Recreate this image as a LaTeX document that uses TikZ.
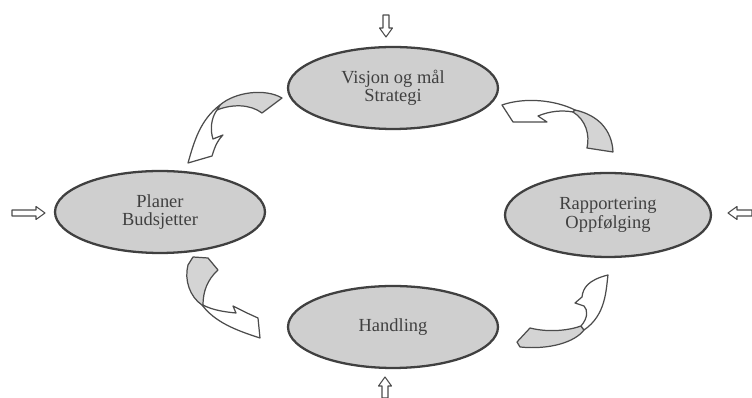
\documentclass[tikz,border=0pt]{standalone}
\usepackage{fontspec}
\setmainfont{Liberation Serif}
\usetikzlibrary{shapes.geometric}
\tikzset{
  stage/.style={ellipse, draw=black!75, line width=1.3pt, fill=black!19,
    minimum width=4.2cm, minimum height=1.64cm, inner sep=0pt, align=center,
    text=black!75, font=\fontsize{10.5}{10.5}\selectfont},
  tailpart/.style={draw=black!70, line width=0.7pt, fill=black!17, line join=round},
  headpart/.style={draw=black!70, line width=0.7pt, fill=white, line join=round},
  pics/inarrow/.style={code={
    \draw[black!70, line width=0.6pt, fill=white, line join=round]
      (0,-3) -- (#1-9,-3) -- (#1-9,-6.5) -- (#1,0) -- (#1-9,6.5) -- (#1-9,3) -- (0,3) -- cycle;}}
}
\begin{document}
\begin{tikzpicture}[x=0.02cm, y=-0.02cm]
  \useasboundingbox (0,0) rectangle (752,398);
  \node[stage] (vision) at (393,88) {Visjon og mål\\Strategi};
  \node[stage] (plan) at (160,212) {Planer\\Budsjetter};
  \node[stage, minimum width=4.12cm, minimum height=1.68cm] (report) at (608,215) {Rapportering\\Oppfølging};
  \node[stage] (action) at (393,327) {Handling};
  \pic[rotate=-90] at (386,15) {inarrow=22};
  \pic at (12,213) {inarrow=33};
  \pic[rotate=180] at (752,213) {inarrow=24};
  \pic[rotate=90] at (385,398) {inarrow=21};
  % vision -> plan
  \draw[tailpart] (220,105) .. controls (235,92) and (265,88) .. (282,98) -- (262,113)
    .. controls (250,104) and (232,104) .. (217,110) -- cycle;
  \draw[headpart] (220,105) .. controls (200,120) and (194,142) .. (188,163) -- (212,156)
    .. controls (214,150) and (216,142) .. (223,135) -- (213,139)
    .. controls (210,130) and (211,118) .. (217,110) -- cycle;
  % report -> vision
  \draw[headpart] (575,110) .. controls (555,100) and (525,97) .. (502,105) -- (513,122)
    -- (547,122) -- (538,116) .. controls (550,111) and (562,110) .. (573,112) -- cycle;
  \draw[tailpart] (575,110) .. controls (598,115) and (612,130) .. (613,152) -- (587,148)
    .. controls (590,135) and (586,120) .. (573,112) -- cycle;
  % plan -> action
  \draw[tailpart] (188,265) -- (193,257) -- (208,258) -- (218,270)
    .. controls (207,280) and (203,292) .. (203,305)
    -- (202,305) .. controls (190,297) and (184,280) .. (188,265) -- cycle;
  \draw[headpart] (202,305) .. controls (215,322) and (235,330) .. (260,338) -- (258,318)
    -- (247,313) -- (233,306) -- (236,313) .. controls (225,312) and (212,310) .. (203,305) -- cycle;
  % action -> report
  \draw[tailpart] (517,342) -- (530,328) .. controls (550,333) and (570,330) .. (581,326)
    -- (584,330) .. controls (575,342) and (550,350) .. (520,347) -- cycle;
  \draw[headpart] (581,326) .. controls (588,318) and (588,310) .. (584,306) -- (575,303)
    -- (582,297) .. controls (583,288) and (588,280) .. (608,275)
    .. controls (606,290) and (606,315) .. (584,330) -- cycle;
\end{tikzpicture}
\end{document}
